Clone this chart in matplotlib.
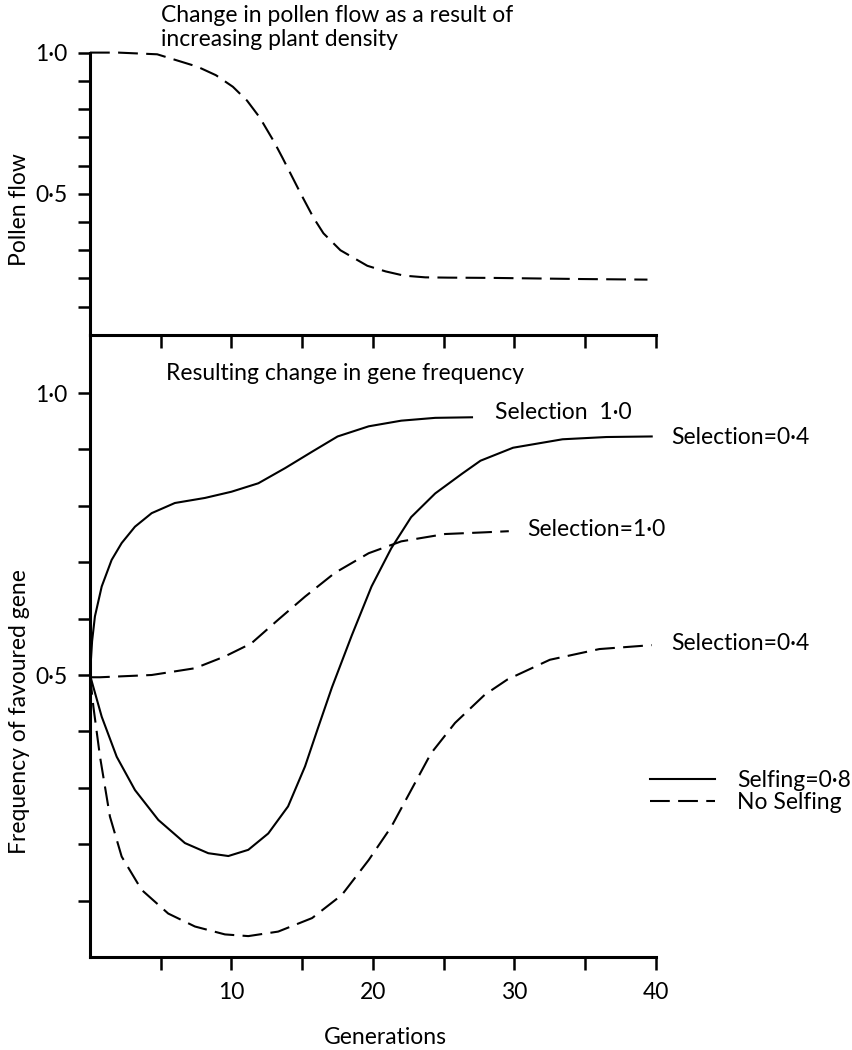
import numpy as np
import matplotlib
matplotlib.use('Agg')
import matplotlib.pyplot as plt

plt.rcParams['font.family'] = ['Lato', 'DejaVu Sans']

# top panel: pollen flow
gen_pollen = [0, 2, 4.75, 7.6, 8.9, 10.1, 11.1, 12.0, 13.0, 13.6, 14.9, 15.8, 16.5, 17.7,
              19.6, 20.9, 22.2, 23.7, 25.3, 28.5, 34.8, 39.4]
pollen = [1.0, 1.0, 0.994, 0.95, 0.92, 0.879, 0.83, 0.77, 0.685, 0.628, 0.50, 0.415, 0.36, 0.30,
          0.245, 0.225, 0.21, 0.204, 0.203, 0.202, 0.198, 0.196]

# bottom panel: gene frequency
# selfing 0.8, selection 1.0
gen_s1 = [0, 0.15, 0.35, 0.83, 1.53, 2.24, 3.18, 4.36, 6.0, 8.13, 10.0, 11.9, 13.8, 15.7,
          17.5, 19.7, 22.0, 24.4, 27.0]
freq_s1 = [0.5, 0.56, 0.604, 0.657, 0.704, 0.734, 0.763, 0.787, 0.805, 0.814, 0.825, 0.840,
           0.867, 0.896, 0.923, 0.941, 0.951, 0.956, 0.957]
# no selfing, selection 1.0
gen_n1 = [0, 0.71, 4.36, 7.42, 9.54, 11.4, 13.3, 15.2, 17.3, 19.7, 22.0, 25.1, 27.9, 29.6]
freq_n1 = [0.496, 0.496, 0.500, 0.512, 0.533, 0.556, 0.598, 0.639, 0.681, 0.716, 0.737, 0.750,
           0.753, 0.755]
# selfing 0.8, selection 0.4
gen_s4 = [0, 0.83, 1.89, 3.18, 4.83, 6.71, 8.36, 9.78, 11.19, 12.6, 14.0, 15.2, 16.1, 17.1,
          18.5, 19.9, 21.3, 22.7, 24.4, 26.3, 27.6, 29.9, 33.4, 36.5, 39.7]
freq_s4 = [0.5, 0.426, 0.355, 0.296, 0.243, 0.202, 0.184, 0.179, 0.190, 0.219, 0.267, 0.338,
           0.405, 0.478, 0.570, 0.657, 0.725, 0.78, 0.822, 0.857, 0.88, 0.903, 0.918, 0.922, 0.923]
# no selfing, selection 0.4
gen_n4 = [0, 0.24, 0.71, 1.41, 2.24, 3.65, 5.53, 7.42, 9.54, 11.19, 13.3, 15.7, 17.8, 19.7,
          21.3, 22.7, 24.1, 25.8, 27.9, 29.5, 32.5, 36.0, 39.7]
freq_n4 = [0.5, 0.444, 0.355, 0.249, 0.178, 0.119, 0.077, 0.054, 0.040, 0.037, 0.045, 0.069,
           0.110, 0.172, 0.231, 0.296, 0.361, 0.415, 0.465, 0.492, 0.527, 0.546, 0.553]

curve_labels = ['Selection  1\u00b70', 'Selection=1\u00b70', 'Selection=0\u00b74', 'Selection=0\u00b74']
legend_labels = ['Selfing=0\u00b78', 'No Selfing']
ytick_labels = {1.0: '1\u00b70', 0.5: '0\u00b75'}

FS = 16.5
LW = 1.5
DASH = (0, (9.5, 4))

fig = plt.figure(figsize=(8.52, 10.50), dpi=100)
ax1 = fig.add_axes([0.1056, 0.6810, 0.6643, 0.2689])
ax2 = fig.add_axes([0.1056, 0.0886, 0.6643, 0.5924])
ax2.set_facecolor('none')

def style(ax, ymax):
    for s in ('top', 'right'):
        ax.spines[s].set_visible(False)
    for s in ('left', 'bottom'):
        ax.spines[s].set_linewidth(2.2)
    ax.set_xlim(0, 40)
    ax.set_ylim(0, ymax)
    ax.set_xticks(np.arange(5, 41, 5))
    yt = np.round(np.arange(0.1, 1.01, 0.1), 1)
    ax.set_yticks(yt)
    ax.set_yticklabels([ytick_labels.get(v, '') for v in yt])
    ax.tick_params(direction='out', length=9, width=1.8, labelsize=FS, pad=7)

style(ax1, 1.0)
ax1.set_xticklabels([])
ax1.plot(gen_pollen, pollen, color='black', lw=LW, ls=DASH, clip_on=False)

style(ax2, 1.103)
ax2.set_xticklabels([str(int(v)) if v % 10 == 0 else '' for v in np.arange(5, 41, 5)])
ax2.tick_params(axis='x', pad=9)

l1, = ax2.plot(gen_s1, freq_s1, color='black', lw=LW, clip_on=False)
ax2.plot(gen_n1, freq_n1, color='black', lw=LW, ls=DASH, clip_on=False)
ax2.plot(gen_s4, freq_s4, color='black', lw=LW, clip_on=False)
l2, = ax2.plot(gen_n4, freq_n4, color='black', lw=LW, ls=DASH, clip_on=False)

ax2.text(28.6, 0.965, curve_labels[0], fontsize=FS, va='center', clip_on=False)
ax2.text(30.9, 0.758, curve_labels[1], fontsize=FS, va='center', clip_on=False)
ax2.text(41.1, 0.922, curve_labels[2], fontsize=FS, va='center', clip_on=False)
ax2.text(41.1, 0.555, curve_labels[3], fontsize=FS, va='center', clip_on=False)

fig.legend([l1, l2], legend_labels, loc='center left',
           bbox_to_anchor=(650 / 852, 1 - 791.5 / 1050), frameon=False,
           fontsize=FS, handlelength=2.85, handletextpad=0.95,
           labelspacing=0.05, borderpad=0, borderaxespad=0)

fig.text(161 / 852, 1 - 15 / 1050, 'Change in pollen flow as a result of', fontsize=FS, va='center')
fig.text(161 / 852, 1 - 40 / 1050, 'increasing plant density', fontsize=FS, va='center')
fig.text(165.5 / 852, 1 - 373.7 / 1050, 'Resulting change in gene frequency', fontsize=FS, va='center')

fig.text(20 / 852, 1 - 210 / 1050, 'Pollen flow', fontsize=FS, rotation=90, ha='center', va='center')
fig.text(20 / 852, 1 - 712 / 1050, 'Frequency of favoured gene', fontsize=FS, rotation=90,
         ha='center', va='center')
fig.text(385 / 852, 1 - 1038 / 1050, 'Generations', fontsize=FS, ha='center', va='center')

fig.savefig('out.png', dpi=100)
